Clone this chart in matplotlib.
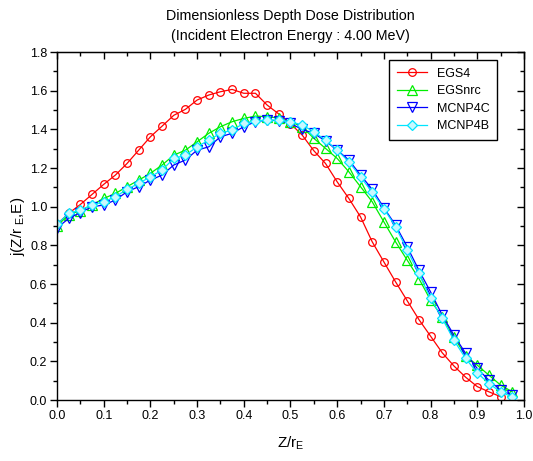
"""Dimensionless depth dose distribution, 4.00 MeV electrons."""
import numpy as np
import matplotlib
matplotlib.use('Agg')
import matplotlib.pyplot as plt
from matplotlib.ticker import MultipleLocator

plt.rcParams.update({
    'font.family': ['Liberation Sans', 'DejaVu Sans'],
    'mathtext.default': 'regular',
    'font.size': 9,
})

# depth points Z/r_E
z_red = [0.0, 0.025, 0.05, 0.075, 0.1, 0.125, 0.15, 0.175, 0.2, 0.225, 0.25,
         0.275, 0.3, 0.325, 0.35, 0.375, 0.4, 0.425, 0.45, 0.475, 0.5, 0.525,
         0.55, 0.575, 0.6, 0.625, 0.65, 0.675, 0.7, 0.725, 0.75, 0.775, 0.8,
         0.825, 0.85, 0.875, 0.9, 0.925, 0.95]
z_all = z_red + [0.975]

egs4 = [0.91, 0.966, 1.012, 1.064, 1.116, 1.164, 1.224, 1.293, 1.362, 1.417,
        1.473, 1.504, 1.552, 1.578, 1.595, 1.607, 1.587, 1.587, 1.526, 1.480,
        1.43, 1.371, 1.290, 1.224, 1.129, 1.043, 0.948, 0.819, 0.715, 0.612,
        0.514, 0.417, 0.331, 0.245, 0.177, 0.119, 0.070, 0.043, 0.018]
egsnrc = [0.90, 0.96, 0.98, 1.01, 1.043, 1.069, 1.104, 1.138, 1.173, 1.216,
          1.267, 1.293, 1.336, 1.38, 1.414, 1.44, 1.457, 1.469, 1.466, 1.459,
          1.44, 1.414, 1.354, 1.302, 1.25, 1.181, 1.104, 1.026, 0.922, 0.819,
          0.724, 0.629, 0.517, 0.43, 0.326, 0.23, 0.181, 0.129, 0.078, 0.043]
mcnp4c = [0.89, 0.94, 0.97, 1.0, 1.009, 1.035, 1.078, 1.104, 1.138, 1.164,
          1.216, 1.242, 1.293, 1.31, 1.362, 1.38, 1.414, 1.44, 1.448, 1.445,
          1.431, 1.40, 1.38, 1.34, 1.293, 1.242, 1.164, 1.09, 0.995, 0.905,
          0.793, 0.672, 0.56, 0.44, 0.336, 0.242, 0.164, 0.103, 0.052, 0.026]
mcnp4b = [0.91, 0.966, 0.983, 1.009, 1.026, 1.052, 1.09, 1.121, 1.155, 1.19,
          1.25, 1.267, 1.31, 1.345, 1.38, 1.397, 1.431, 1.445, 1.448, 1.448,
          1.44, 1.423, 1.388, 1.345, 1.293, 1.233, 1.155, 1.075, 0.99, 0.897,
          0.776, 0.655, 0.526, 0.423, 0.31, 0.216, 0.141, 0.086, 0.043, 0.017]

fig = plt.figure(figsize=(5.33, 4.61), dpi=100)
ax = fig.add_axes([0.107, 0.132, 0.876, 0.755])

ax.plot(z_red, egs4, '-o', color='#ff0000', mfc='none', ms=5.5, mew=0.9,
        lw=0.9, label='EGS4')
ax.plot(z_all, egsnrc, '-^', color='#00ee00', mfc='none', ms=6.5, mew=0.9,
        lw=0.9, label='EGSnrc')
ax.plot(z_all, mcnp4c, '-v', color='#0000ff', mfc='none', ms=6.5, mew=0.9,
        lw=0.9, label='MCNP4C')
ax.plot(z_all, mcnp4b, '-D', color='#00e5ff', mfc='#c8f8ff', ms=5, mew=0.9,
        lw=0.9, label='MCNP4B')

ax.set_xlim(0, 1.0)
ax.set_ylim(0, 1.8)
ax.xaxis.set_major_locator(MultipleLocator(0.1))
ax.xaxis.set_minor_locator(MultipleLocator(0.05))
ax.yaxis.set_major_locator(MultipleLocator(0.2))
ax.yaxis.set_minor_locator(MultipleLocator(0.1))
ax.xaxis.set_major_formatter(matplotlib.ticker.FormatStrFormatter('%.1f'))
ax.yaxis.set_major_formatter(matplotlib.ticker.FormatStrFormatter('%.1f'))
ax.tick_params(which='both', direction='out', width=1, labelsize=9, pad=2)
ax.tick_params(which='major', length=5)
ax.tick_params(which='minor', length=3)
for s in ax.spines.values():
    s.set_linewidth(1)

# inward ticks on top and right
top = ax.secondary_xaxis('top')
top.xaxis.set_major_locator(MultipleLocator(0.1))
top.xaxis.set_minor_locator(MultipleLocator(0.05))
top.tick_params(which='both', direction='in', labeltop=False, width=1)
top.tick_params(which='major', length=5)
top.tick_params(which='minor', length=3)
right = ax.secondary_yaxis('right')
right.yaxis.set_major_locator(MultipleLocator(0.2))
right.yaxis.set_minor_locator(MultipleLocator(0.1))
right.tick_params(which='both', direction='in', labelright=False, width=1)
right.tick_params(which='major', length=5)
right.tick_params(which='minor', length=3)

ax.set_xlabel('Z/r$_{E}$', fontsize=11, labelpad=9)
ax.set_ylabel('j(Z/r$_{\\ E}$,E)', fontsize=11, labelpad=2)
ax.set_title('Dimensionless Depth Dose Distribution\n'
             '(Incident Electron Energy : 4.00 MeV)', fontsize=10.3, pad=9,
             linespacing=1.5)

leg = ax.legend(loc='upper right', bbox_to_anchor=(0.956, 0.995), fontsize=9,
                fancybox=False, framealpha=1, edgecolor='black',
                handlelength=2.4, borderpad=0.6, labelspacing=0.45)
leg.get_frame().set_linewidth(1)

fig.savefig('out.png', dpi=100)
